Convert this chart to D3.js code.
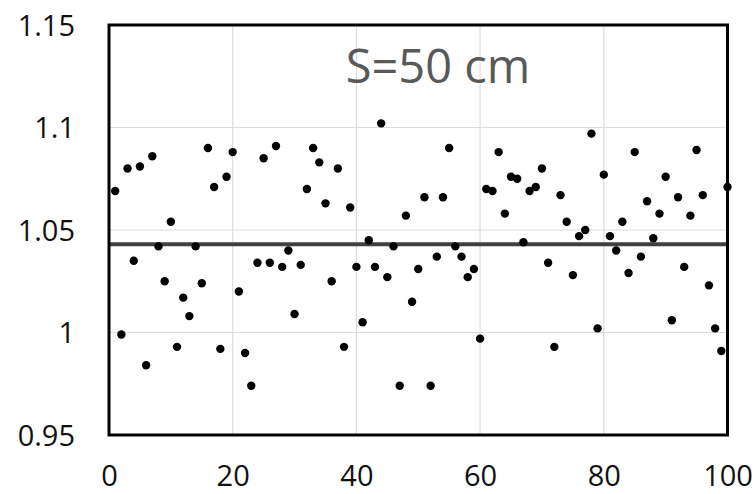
<!DOCTYPE html>
<html><head><meta charset="utf-8">
<script src="https://cdn.jsdelivr.net/npm/d3@7"></script>
<style>body{margin:0;background:#fff;}svg{display:block;}</style>
</head><body>
<svg id="c" width="756" height="494"></svg>
<script>
const title = "S=50 cm";
const xTicks = [0, 20, 40, 60, 80, 100];
const yTicks = [0.95, 1, 1.05, 1.1, 1.15];
const yTickLabels = ["0.95", "1", "1.05", "1.1", "1.15"];
const meanValue = 1.043;
const xValues = d3.range(1, 101);
const yValues = [
 1.069, 0.999, 1.080, 1.035, 1.081, 0.984, 1.086, 1.042, 1.025, 1.054,
 0.993, 1.017, 1.008, 1.042, 1.024, 1.090, 1.071, 0.992, 1.076, 1.088,
 1.020, 0.990, 0.974, 1.034, 1.085, 1.034, 1.091, 1.032, 1.040, 1.009,
 1.033, 1.070, 1.090, 1.083, 1.063, 1.025, 1.080, 0.993, 1.061, 1.032,
 1.005, 1.045, 1.032, 1.102, 1.027, 1.042, 0.974, 1.057, 1.015, 1.031,
 1.066, 0.974, 1.037, 1.066, 1.090, 1.042, 1.037, 1.027, 1.031, 0.997,
 1.070, 1.069, 1.088, 1.058, 1.076, 1.075, 1.044, 1.069, 1.071, 1.080,
 1.034, 0.993, 1.067, 1.054, 1.028, 1.047, 1.050, 1.097, 1.002, 1.077,
 1.047, 1.040, 1.054, 1.029, 1.088, 1.037, 1.064, 1.046, 1.058, 1.076,
 1.006, 1.066, 1.032, 1.057, 1.089, 1.067, 1.023, 1.002, 0.991, 1.071
];

const svg = d3.select("#c");
const L = 109, R = 727.5, T = 25, B = 435;
const x = d3.scaleLinear().domain([0, 100]).range([L, R]);
const y = d3.scaleLinear().domain([0.95, 1.15]).range([B, T]);
const font = "'Open Sans', 'Noto Sans', sans-serif";

// gridlines
const g = svg.append("g");
g.selectAll("line.v").data(xTicks.slice(1, -1)).join("line")
  .attr("x1", d => x(d)).attr("x2", d => x(d)).attr("y1", T).attr("y2", B)
  .attr("stroke", "#dcdcdc").attr("stroke-width", 1.2);
g.selectAll("line.h").data(yTicks.slice(1, -1)).join("line")
  .attr("y1", d => y(d)).attr("y2", d => y(d)).attr("x1", L).attr("x2", R)
  .attr("stroke", "#dcdcdc").attr("stroke-width", 1.2);

// mean line
svg.append("line")
  .attr("x1", x(0)).attr("x2", x(100)).attr("y1", y(meanValue)).attr("y2", y(meanValue))
  .attr("stroke", "#404040").attr("stroke-width", 4);

// points
svg.append("g").selectAll("circle").data(xValues).join("circle")
  .attr("cx", (d) => x(d)).attr("cy", (d, i) => y(yValues[i]))
  .attr("r", 4.2).attr("fill", "#000");

// frame
svg.append("rect").attr("x", L).attr("y", T).attr("width", R - L).attr("height", B - T)
  .attr("fill", "none").attr("stroke", "#000").attr("stroke-width", 3);

// axes labels
const yAxis = d3.axisLeft(y).tickValues(yTicks).tickFormat((d, i) => yTickLabels[i]).tickSize(0).tickPadding(34);
const ya = svg.append("g").attr("transform", `translate(${L},0)`).call(yAxis);
ya.select(".domain").remove();
ya.selectAll("text").attr("font-family", font).attr("font-size", 29).attr("fill", "#111").attr("dy", "0.35em");

const xAxis = d3.axisBottom(x).tickValues(xTicks).tickFormat(d3.format("d")).tickSize(0).tickPadding(30);
const xa = svg.append("g").attr("transform", `translate(0,${B})`).call(xAxis);
xa.select(".domain").remove();
xa.selectAll("text").attr("font-family", font).attr("font-size", 29).attr("fill", "#111");

// title
svg.append("text").attr("x", 438).attr("y", 83).attr("text-anchor", "middle")
  .attr("font-family", font).attr("font-size", 47).attr("fill", "#595959").text(title);
</script>
</body></html>
